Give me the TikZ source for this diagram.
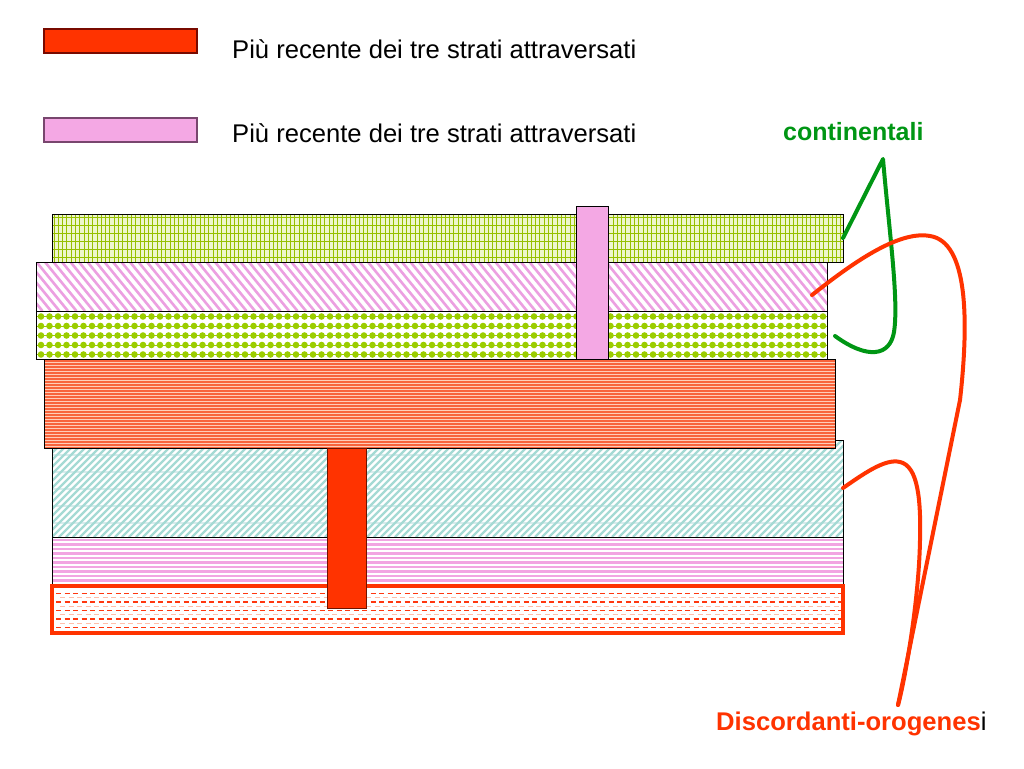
\documentclass[tikz,border=0pt]{standalone}
\usepackage{fontspec}
\setmainfont{Liberation Sans}
\definecolor{legred}{RGB}{255,51,0}
\definecolor{legpink}{RGB}{244,168,228}
\definecolor{gridln}{RGB}{150,192,0}
\definecolor{gridbg}{RGB}{238,246,205}
\definecolor{pinkst}{RGB}{236,160,225}
\definecolor{dotgr}{RGB}{155,205,0}
\definecolor{orbg}{RGB}{255,205,185}
\definecolor{orln}{RGB}{248,100,60}
\definecolor{cyst}{RGB}{165,218,212}
\definecolor{cyln}{RGB}{215,236,236}
\definecolor{pkln}{RGB}{242,165,226}
\definecolor{rdln}{RGB}{255,55,15}
\definecolor{rdlt}{RGB}{255,190,170}
\definecolor{contgreen}{RGB}{0,150,20}
\begin{document}
\begin{tikzpicture}[x=1pt,y=-1pt,
  border/.style={draw=black,line width=0.9pt},
  lbl/.style={inner sep=0pt,anchor=base west},
  conn/.style={line width=4pt,line cap=round,line join=round},
  legbox/.style={line width=1.2pt}]
\useasboundingbox (0,0) rectangle (1024,768);
\fill[white] (0,0) rectangle (1024,768);

% legend
\draw[legbox,fill=legred,draw={rgb,255:red,120;green,10;blue,0}] (44,29) rectangle (197,53);
\draw[legbox,fill=legpink,draw={rgb,255:red,120;green,70;blue,110}] (44,118) rectangle (197,142);
\node[lbl,font=\fontsize{25.6}{30}\selectfont] (t1) at (232,59) {Più recente dei tre strati attraversati};
\node[lbl,font=\fontsize{25.6}{30}\selectfont] (t2) at (232,142) {Più recente dei tre strati attraversati};
\node[lbl,font=\fontsize{25}{30}\selectfont\bfseries,text=contgreen] (cont) at (783,140) {continentali};

% layer 1 grid
\begin{scope}
\clip (52,214) rectangle (843,262);
\fill[gridbg] (52,214) rectangle (843,262);
\foreach \x in {54,58.3,...,843} \draw[gridln,line width=1pt] (\x,214) -- (\x,262);
\foreach \y in {217,225,...,262} \draw[gridln,line width=1pt] (52,\y) -- (843,\y);
\end{scope}
\draw[border] (52,214) rectangle (843,262);

% layer 2 pink diagonal
\begin{scope}
\clip (36,262) rectangle (827,311);
\foreach \x in {-40,-31.5,...,830} \draw[pinkst,line width=2.6pt] (\x,262) -- (\x+40,311);
\end{scope}
\draw[border] (36,262) rectangle (827,311);

% layer 3 green dots
\begin{scope}
\clip (36,311) rectangle (827,359);
\foreach \y in {316.5,326,335.5,345,354.5} {
  \draw[dotgr,line width=0.6pt] (36,\y) -- (827,\y);
  \foreach \x in {41,49.5,...,827} \fill[dotgr] (\x,\y) circle (3.3);
}
\end{scope}
\draw[border] (36,311) rectangle (827,359);

% pink dike
\draw[border,fill=legpink] (576,206) rectangle (608,359);

% layer 5 cyan diagonal
\begin{scope}
\clip (52,440) rectangle (843,537);
\fill[white] (52,440) rectangle (843,537);
\foreach \y in {455,472,...,537} \draw[cyln,line width=1.2pt] (52,\y) -- (843,\y);
\foreach \x in {-60,-53,...,850} \draw[cyst,line width=2.4pt] (\x,537) -- (\x+97,440);
\end{scope}
\draw[border] (52,440) rectangle (843,537);

% layer 4 orange horizontal lines
\begin{scope}
\clip (44,359) rectangle (835,448);
\fill[orbg] (44,359) rectangle (835,448);
\foreach \y in {361,364,...,448} \draw[orln,line width=1.5pt] (44,\y) -- (835,\y);
\end{scope}
\draw[border] (44,359) rectangle (835,448);

% layer 6 pink horizontal lines
\begin{scope}
\clip (52,537) rectangle (843,585);
\foreach \y in {540,544.5,...,585} \draw[pkln,line width=2.2pt] (52,\y) -- (843,\y);
\end{scope}
\draw[border] (52,537) rectangle (843,585);

% layer 7 red dashed
\begin{scope}
\clip (52,586) rectangle (843,633);
\foreach \y in {593.5,602,610.5,619,627.5} {
  \draw[rdlt,line width=1.2pt,dash pattern=on 5pt off 3.5pt] (60,\y+4.2) -- (843,\y+4.2);
  \draw[rdln,line width=1.8pt,dash pattern=on 5pt off 3.5pt] (56,\y) -- (843,\y);
}
\end{scope}
\draw[legred,line width=3.5pt] (52,586) rectangle (843,633);

% red dike
\draw[fill=legred,draw={rgb,255:red,110;green,20;blue,0},line width=0.9pt] (327,448) rectangle (366,608);

% labels bottom
\node[lbl,font=\fontsize{25.6}{30}\selectfont] (disc) at (716,730) {\textcolor{legred}{\bfseries Discordanti-orogenes}i};

% connectors
\coordinate (g1) at (843,238);
\coordinate (g2) at (883,159);
\coordinate (g3) at (835,336);
\coordinate (r1) at (812,295);
\coordinate (r2) at (843,488);
\coordinate (rt) at (898,705);
\draw[conn,contgreen] (g1) -- (g2) .. controls (889,230) and (899,300) .. (894,332) .. controls (890,356) and (868,360) .. (g3);
\draw[conn,legred] (r1) .. controls (850,265) and (898,230) .. (930,236) .. controls (968,242) and (969,320) .. (960,400) -- (rt);
\draw[conn,legred] (r2) .. controls (862,475) and (885,458) .. (900,462) .. controls (918,466) and (921,500) .. (920,540) .. controls (919,600) and (905,680) .. (rt);
\end{tikzpicture}
\end{document}
